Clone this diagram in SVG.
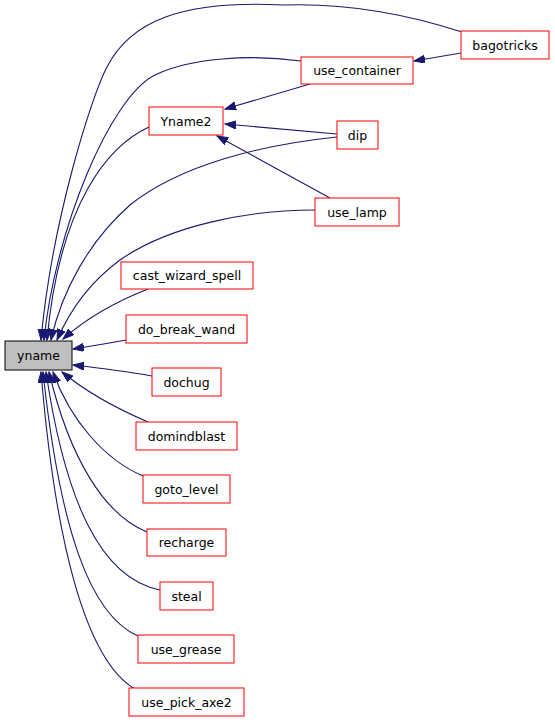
<svg xmlns="http://www.w3.org/2000/svg" width="555" height="723" viewBox="0 0 555 723">
<style>
.n rect{fill:#ffffff;stroke:#ff0000;stroke-width:1}
.n text{font-family:"DejaVu Sans",sans-serif;font-size:12.5px;text-anchor:middle;fill:#000000}
.e path{fill:none;stroke:#191970;stroke-width:1.1}
#yname rect{fill:#bfbfbf;stroke:#000000}
</style>
<defs>
<marker id="ah" markerUnits="userSpaceOnUse" markerWidth="12" markerHeight="10" refX="11" refY="4" orient="auto">
<path d="M0,0 L11,4 L0,8 z" fill="#191970" stroke="#191970" stroke-width="1"/>
</marker>
</defs>
<rect width="555" height="723" fill="#ffffff"/>
<g class="e" id="edges">
<path marker-end="url(#ah)" d="M462,32 C400,12 340,3 283,5 C180,0 130,22 107,67 C92,95 52,220 41,340"/>
<path marker-end="url(#ah)" d="M301,61 C250,54 190,58 155,75 C110,97 55,230 44,340"/>
<path marker-end="url(#ah)" d="M149,127 C110,145 60,200 47,340"/>
<path marker-end="url(#ah)" d="M337,137 C260,145 180,165 130,205 C90,240 62,290 51,340"/>
<path marker-end="url(#ah)" d="M315,210 C250,210 170,225 120,260 C90,282 70,310 57,340"/>
<path marker-end="url(#ah)" d="M148,289 C120,300 90,315 63,339"/>
<path marker-end="url(#ah)" d="M126,340 C110,343 92,346 73,349"/>
<path marker-end="url(#ah)" d="M152,376 C130,372 100,368 73,365"/>
<path marker-end="url(#ah)" d="M148,422 C120,410 90,395 62,372"/>
<path marker-end="url(#ah)" d="M143,476 C105,460 70,420 53,372"/>
<path marker-end="url(#ah)" d="M147,532 C105,515 70,460 49,372"/>
<path marker-end="url(#ah)" d="M160,590 C100,578 65,500 46,372"/>
<path marker-end="url(#ah)" d="M138,636 C90,615 60,530 43,372"/>
<path marker-end="url(#ah)" d="M135,689 C85,660 55,540 41,372"/>
<path marker-end="url(#ah)" d="M310,84 L225,109"/>
<path marker-end="url(#ah)" d="M337,134 L225,124"/>
<path marker-end="url(#ah)" d="M330,198 L217,136"/>
<path marker-end="url(#ah)" d="M461,53 L414,61"/>
</g>
<g class="n" id="yname"><rect x="5" y="341" width="67" height="29"/><text x="38.5" y="360">yname</text></g>
<g class="n" id="bagotricks"><rect x="461" y="31" width="88" height="28"/><text x="505" y="49.5">bagotricks</text></g>
<g class="n" id="use_container"><rect x="301" y="57" width="112" height="27"/><text x="357" y="75">use_container</text></g>
<g class="n" id="Yname2"><rect x="149" y="107" width="74" height="28"/><text x="186" y="125.5">Yname2</text></g>
<g class="n" id="dip"><rect x="337" y="121" width="41" height="28"/><text x="357.5" y="139.5">dip</text></g>
<g class="n" id="use_lamp"><rect x="315" y="198" width="84" height="28"/><text x="357" y="216.5">use_lamp</text></g>
<g class="n" id="cast_wizard_spell"><rect x="121" y="262" width="132" height="27"/><text x="187" y="280">cast_wizard_spell</text></g>
<g class="n" id="do_break_wand"><rect x="126" y="315" width="121" height="28"/><text x="186.5" y="333.5">do_break_wand</text></g>
<g class="n" id="dochug"><rect x="152" y="368" width="69" height="28"/><text x="186.5" y="386.5">dochug</text></g>
<g class="n" id="domindblast"><rect x="136" y="422" width="101" height="28"/><text x="186.5" y="440.5">domindblast</text></g>
<g class="n" id="goto_level"><rect x="143" y="475" width="87" height="28"/><text x="186.5" y="493.5">goto_level</text></g>
<g class="n" id="recharge"><rect x="147" y="529" width="79" height="27"/><text x="186.5" y="547">recharge</text></g>
<g class="n" id="steal"><rect x="160" y="582" width="53" height="28"/><text x="186.5" y="600.5">steal</text></g>
<g class="n" id="use_grease"><rect x="138" y="635" width="96" height="28"/><text x="186" y="653.5">use_grease</text></g>
<g class="n" id="use_pick_axe2"><rect x="129" y="688" width="115" height="28"/><text x="186.5" y="706.5">use_pick_axe2</text></g>
</svg>
